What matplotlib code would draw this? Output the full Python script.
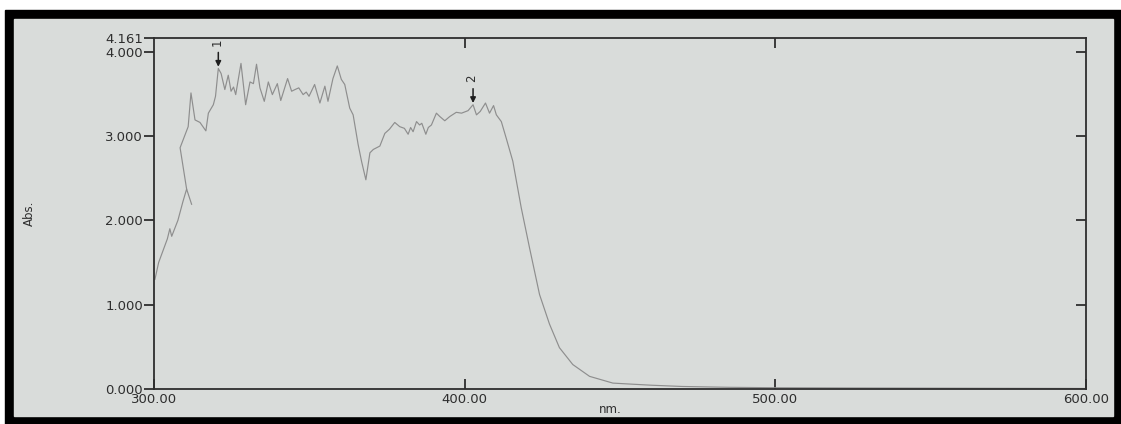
import matplotlib
matplotlib.use("Agg")
import matplotlib.pyplot as plt
from matplotlib.patches import Rectangle

# absorbance scan (nm, Abs.)
# lower branch near the start of the scan
scan_lo_nm = [300.3, 301.5, 303.0, 304.3, 305.1, 305.7, 307.7, 309.3, 310.5, 312.1]
scan_lo_abs = [1.30, 1.50, 1.65, 1.78, 1.90, 1.81, 2.00, 2.22, 2.37, 2.19]

# main trace
scan_nm = [310.5, 308.4, 311.0, 311.9, 313.2, 314.8, 316.7, 317.5, 319.1, 319.8,
           320.7, 321.6, 322.8, 323.9, 324.8, 325.6, 326.3, 328.0, 329.5, 330.9,
           332.0, 333.0, 334.1, 335.5, 336.8, 338.1, 339.7, 340.8, 343.0, 344.3,
           345.4, 346.6, 348.0, 349.0, 349.9, 351.7, 353.4, 355.0, 356.0, 357.6,
           359.0, 360.3, 361.4, 363.0, 364.1, 365.7, 366.8, 368.2, 369.5, 370.6,
           372.7, 374.3, 375.8, 377.5, 379.1, 380.6, 381.8, 382.6, 383.4, 384.5,
           385.5, 386.2, 387.5, 388.3, 389.3, 390.9, 392.0, 393.6, 395.2, 397.3,
           399.0, 401.1, 402.7, 403.8, 405.0, 406.7, 408.0, 409.3, 410.2, 411.8,
           413.4, 415.5, 418.2, 420.9, 424.1, 427.3, 430.5, 434.8, 440.2, 447.7,
           452.5, 460.0, 470.0, 485.0, 500.0, 525.0, 550.0, 575.0, 600.0]
scan_abs = [2.37, 2.86, 3.11, 3.51, 3.19, 3.16, 3.06, 3.27, 3.37, 3.47,
            3.80, 3.74, 3.55, 3.72, 3.53, 3.58, 3.49, 3.86, 3.37, 3.64,
            3.62, 3.85, 3.57, 3.41, 3.64, 3.49, 3.62, 3.42, 3.68, 3.53,
            3.55, 3.57, 3.49, 3.52, 3.47, 3.61, 3.39, 3.59, 3.41, 3.68,
            3.83, 3.67, 3.61, 3.33, 3.25, 2.90, 2.70, 2.48, 2.80, 2.84,
            2.88, 3.03, 3.08, 3.16, 3.11, 3.09, 3.02, 3.10, 3.05, 3.17,
            3.13, 3.15, 3.02, 3.10, 3.13, 3.27, 3.23, 3.18, 3.23, 3.28,
            3.27, 3.30, 3.37, 3.25, 3.29, 3.39, 3.27, 3.36, 3.25, 3.17,
            2.97, 2.70, 2.15, 1.67, 1.12, 0.77, 0.49, 0.29, 0.15, 0.07,
            0.06, 0.045, 0.03, 0.02, 0.015, 0.012, 0.01, 0.008, 0.006]

# peak markers: (nm, Abs. at arrow tip, label)
peaks = [(320.7, 3.82, "1"), (402.7, 3.39, "2")]

x_ticks = [300, 400, 500, 600]
x_ticklabels = ["300.00", "400.00", "500.00", "600.00"]
y_ticks = [0, 1, 2, 3, 4, 4.161]
y_ticklabels = ["0.000", "1.000", "2.000", "3.000", "4.000", "4.161"]

W, H = 1121, 424
paper = "#d9dcda"
ink = "#2e2e2e"
trace = "#8e8e8e"

plt.rcParams['font.family'] = ['DejaVu Sans']

fig = plt.figure(figsize=(W / 100, H / 100), dpi=100)
fig.patch.set_facecolor("white")

# black photo border and the grey paper inside it
fig.patches.append(Rectangle((5 / W, 0), 1 - 5 / W, 1 - 10 / H,
                             transform=fig.transFigure, color="black", zorder=-10))
fig.patches.append(Rectangle((14 / W, 8 / H), 1099 / W, 397 / H,
                             transform=fig.transFigure, color=paper, zorder=-9))

ax = fig.add_axes([154 / W, 35 / H, 932 / W, 351 / H])
ax.patch.set_alpha(0)

ax.plot(scan_lo_nm, scan_lo_abs, color=trace, lw=0.85)
ax.plot(scan_nm, scan_abs, color=trace, lw=0.85)

for nm, tip, lab in peaks:
    ax.annotate("", xy=(nm, tip), xytext=(nm, tip + 0.17),
                arrowprops=dict(arrowstyle="-|>", color="#1e1e1e", lw=1.1,
                                mutation_scale=8, shrinkA=0, shrinkB=0))
    ax.text(nm - 0.3, tip + 0.29, lab, rotation=90, ha="center", va="center",
            fontsize=8.5, color=ink)

ax.set_xlim(300, 600)
ax.set_ylim(0, 4.161)
ax.set_xticks(x_ticks)
ax.set_xticklabels(x_ticklabels)
ax.set_yticks(y_ticks)
ax.set_yticklabels(y_ticklabels)

for s in ax.spines.values():
    s.set_color(ink)
    s.set_linewidth(1.3)

ax.tick_params(axis="x", direction="in", length=7, width=1.3, color=ink,
               labelsize=9.5, labelcolor=ink, pad=3)
ax.tick_params(axis="y", direction="out", length=7, width=1.3, color=ink,
               labelsize=9.5, labelcolor=ink, pad=1)

# inward ticks on the right and top edges
right = ax.secondary_yaxis("right")
right.set_yticks([1, 2, 3, 4])
right.tick_params(direction="in", length=7, width=1.3, color=ink, labelright=False)
right.spines["right"].set_visible(False)
top = ax.secondary_xaxis("top")
top.set_xticks([400, 500])
top.tick_params(direction="in", length=7, width=1.3, color=ink, labeltop=False)
top.spines["top"].set_visible(False)

ax.text(0.49, -0.058, "nm.", transform=ax.transAxes, ha="center", va="center",
        fontsize=8.5, color=ink)
ax.set_ylabel("Abs.", fontsize=8.5, color=ink)
ax.yaxis.set_label_coords(-0.127, 0.5)

fig.savefig("out.png", dpi=100, facecolor=fig.get_facecolor())
